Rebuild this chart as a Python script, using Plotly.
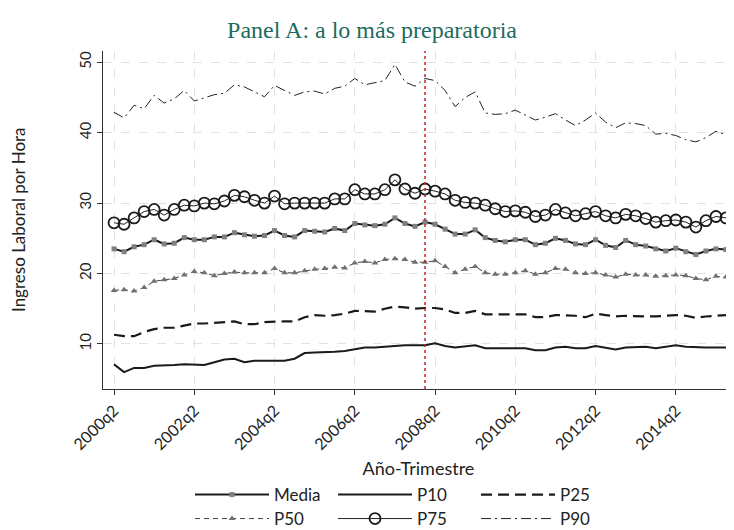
import plotly.graph_objects as go

tick_labels = ["2000q2", "2002q2", "2004q2", "2006q2", "2008q2", "2010q2", "2012q2", "2014q2"]
tick_pos = [0, 8, 16, 24, 32, 40, 48, 56]
crisis_q = 31  # 2008q1

media = [23.5, 23.1, 23.8, 24.1, 24.8, 24.2, 24.3, 25.1, 24.8, 24.8, 25.2, 25.2, 25.8, 25.5, 25.3, 25.4,
         26.1, 25.4, 25.2, 26.1, 26.0, 25.9, 26.4, 26.1, 27.1, 26.9, 26.8, 27.0, 27.9, 27.1, 26.7, 27.3,
         27.0, 26.3, 25.6, 25.6, 26.2, 25.1, 24.7, 24.5, 24.8, 24.8, 24.1, 24.3, 25.0, 24.7, 24.2, 24.1,
         24.8, 24.0, 23.7, 24.7, 24.1, 23.9, 23.5, 23.2, 23.6, 23.1, 22.7, 23.2, 23.5, 23.4]
p10 = [7.1, 6.0, 6.6, 6.6, 6.9, 6.9, 7.0, 7.1, 7.1, 7.0, 7.4, 7.8, 7.9, 7.4, 7.6, 7.6,
       7.6, 7.6, 7.9, 8.7, 8.8, 8.8, 8.9, 9.0, 9.3, 9.5, 9.5, 9.6, 9.8, 9.8, 9.8, 9.8,
       10.1, 9.7, 9.5, 9.7, 9.8, 9.4, 9.4, 9.4, 9.4, 9.4, 9.1, 9.1, 9.5, 9.6, 9.4, 9.4,
       9.7, 9.5, 9.2, 9.5, 9.6, 9.6, 9.4, 9.6, 9.8, 9.6, 9.5, 9.5, 9.5, 9.5]
p25 = [11.3, 11.1, 11.1, 11.7, 12.1, 12.3, 12.3, 12.6, 12.9, 12.9, 13.0, 13.0, 13.2, 12.8, 12.8, 13.1,
       13.2, 13.2, 13.2, 13.8, 14.1, 14.0, 14.1, 14.3, 14.7, 14.6, 14.6, 15.0, 15.3, 15.2, 15.0, 15.1,
       15.1, 14.9, 14.4, 14.4, 14.7, 14.2, 14.2, 14.3, 14.3, 14.2, 13.8, 13.8, 14.1, 14.1, 14.0, 13.8,
       14.3, 14.1, 13.9, 14.0, 13.9, 13.9, 13.9, 14.0, 14.1, 14.0, 13.7, 13.9, 14.0, 14.1]
p50 = [17.6, 17.7, 17.5, 18.0, 18.9, 19.1, 19.3, 19.8, 20.3, 20.1, 19.7, 20.0, 20.2, 20.1, 20.1, 20.1,
       20.7, 20.1, 20.1, 20.4, 20.6, 20.7, 20.9, 20.8, 21.5, 21.7, 21.5, 22.0, 22.1, 22.0, 21.6, 21.6,
       21.8, 21.0, 20.1, 20.6, 21.0, 20.1, 19.9, 19.9, 20.1, 20.4, 19.9, 20.1, 20.7, 20.6, 20.1, 20.0,
       20.1, 19.8, 19.5, 19.9, 19.8, 19.8, 19.6, 19.7, 19.8, 19.7, 19.3, 19.1, 19.6, 19.5]
p75 = [27.2, 27.0, 27.9, 28.8, 29.1, 28.3, 29.1, 29.7, 29.6, 30.0, 29.9, 30.3, 31.1, 30.9, 30.4, 30.0,
       31.0, 29.9, 30.0, 30.0, 30.0, 30.0, 30.6, 30.6, 31.9, 31.3, 31.3, 31.9, 33.3, 32.0, 31.4, 32.0,
       31.7, 31.3, 30.4, 30.1, 30.0, 29.7, 29.2, 28.8, 28.9, 28.7, 28.1, 28.3, 29.1, 28.6, 28.2, 28.5,
       28.8, 28.2, 27.9, 28.4, 28.2, 27.8, 27.3, 27.5, 27.6, 27.3, 26.6, 27.5, 28.1, 27.9]
p90 = [42.9, 42.1, 43.9, 43.4, 45.3, 44.2, 44.8, 46.0, 44.5, 45.0, 45.4, 45.6, 46.8, 46.5, 45.8, 45.1,
       46.7, 46.0, 45.3, 45.8, 45.9, 45.5, 46.3, 46.6, 47.7, 46.8, 47.1, 47.4, 49.7, 47.2, 46.6, 47.7,
       47.4, 46.0, 43.7, 45.0, 45.8, 42.8, 42.6, 42.7, 43.2, 42.5, 41.8, 42.2, 42.7, 41.8, 41.0, 41.8,
       42.8, 41.5, 40.7, 41.4, 41.3, 41.0, 39.8, 39.9, 39.6, 39.0, 38.7, 39.3, 40.2, 39.7]

x = list(range(len(media)))

# The page body has an 8px default margin, so the figure is drawn 8px smaller
# and every target pixel position is offset by 8.
OFF = 8
W, H = 734 - OFF, 530 - OFF
L, R, T, B = 103 - OFF, 0, 51 - OFF, 141
PW, PH = W - L - R, H - T - B

fig = go.Figure()
fig.add_trace(go.Scatter(x=x, y=p90, name="P90", mode="lines", legend="legend2", legendrank=3,
                         line=dict(color="#222222", width=1, dash="10px,4px,2px,4px")))
fig.add_trace(go.Scatter(x=x, y=p75, name="P75", mode="lines+markers", legend="legend2", legendrank=2,
                         line=dict(color="#222222", width=1),
                         marker=dict(symbol="circle-open", size=11, color="#1a1a1a", line=dict(width=1.8))))
fig.add_trace(go.Scatter(x=x, y=media, name="Media", mode="lines+markers", legend="legend", legendrank=1,
                         line=dict(color="#1a1a1a", width=2),
                         marker=dict(symbol="square", size=5, color="#808080")))
fig.add_trace(go.Scatter(x=x, y=p50, name="P50", mode="lines+markers", legend="legend2", legendrank=1,
                         line=dict(color="#444444", width=1, dash="5px,4px"),
                         marker=dict(symbol="triangle-up", size=6, color="#707070")))
fig.add_trace(go.Scatter(x=x, y=p25, name="P25", mode="lines", legend="legend", legendrank=3,
                         line=dict(color="#1a1a1a", width=2.2, dash="11px,6px")))
fig.add_trace(go.Scatter(x=x, y=p10, name="P10", mode="lines", legend="legend", legendrank=2,
                         line=dict(color="#1a1a1a", width=2)))

fig.add_shape(type="line", xref="x", yref="paper", x0=crisis_q, x1=crisis_q, y0=0, y1=1,
              line=dict(color="#cc2222", width=1.5, dash="dot"))

leg_common = dict(orientation="h", xanchor="left", xref="paper", yref="paper", yanchor="middle",
                  entrywidth=54, itemwidth=74, font=dict(size=17), traceorder="normal",
                  bgcolor="rgba(0,0,0,0)")
leg_x = (196 - OFF - 6 - L) / PW

fig.update_layout(
    width=W, height=H,
    margin=dict(l=L, r=R, t=T, b=B, autoexpand=False),
    paper_bgcolor="white", plot_bgcolor="white",
    font=dict(family="Lato, sans-serif", size=13, color="#222222"),
    title=dict(text="Panel A: a lo más preparatoria", x=(372 - OFF) / W, xanchor="center",
               y=1 - (30 - OFF) / H, yanchor="middle", yref="container",
               font=dict(family="Liberation Serif, serif", size=24, color="#1d6b60")),
    xaxis=dict(range=[-1.1, 61.8], tickmode="array", tickvals=tick_pos, ticktext=tick_labels,
               tickangle=-45, showgrid=True, gridcolor="#e2e2e2", griddash="dash", gridwidth=1,
               showline=True, linecolor="#333333", linewidth=1, ticks="outside", ticklen=5,
               tickcolor="#333333", zeroline=False, tickfont=dict(size=16), automargin=False,
               title=dict(text="Año-Trimestre", font=dict(size=18), standoff=10)),
    yaxis=dict(range=[3.6, 51.6], tickvals=[10, 20, 30, 40, 50], tickangle=-90,
               showgrid=True, gridcolor="#e2e2e2", griddash="dash", gridwidth=1,
               showline=True, linecolor="#333333", linewidth=1, ticks="outside", ticklen=5,
               tickcolor="#333333", zeroline=False, tickfont=dict(size=15), automargin=False),
    legend=dict(x=leg_x, y=-(495 - OFF - (T + PH)) / PH, **leg_common),
    legend2=dict(x=leg_x, y=-(519 - OFF - (T + PH)) / PH, **leg_common),
    annotations=[dict(text="Ingreso Laboral por Hora", x=(18 - OFF - L) / PW, xref="paper", y=0.5,
                      yref="paper", textangle=-90, showarrow=False, font=dict(size=17),
                      xanchor="center", yanchor="middle")],
)

fig.write_html("out.html")
